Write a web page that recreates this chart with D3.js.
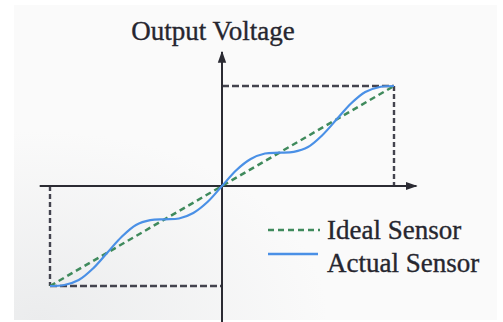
<!DOCTYPE html>
<html><head><meta charset="utf-8">
<script src="https://cdn.jsdelivr.net/npm/d3@7/dist/d3.min.js"></script>
<style>html,body{margin:0;padding:0;background:#fff;}svg{display:block;}</style>
</head><body>
<script>
// Normalized input (x) and output (y)
const xValues = [-1, -0.917, -0.833, -0.75, -0.667, -0.583, -0.5, -0.417, -0.333, -0.25, -0.167, -0.083, 0,
                 0.083, 0.167, 0.25, 0.333, 0.417, 0.5, 0.583, 0.667, 0.75, 0.833, 0.917, 1];
const actualValues = [-1, -0.99, -0.94, -0.825, -0.667, -0.508, -0.39, -0.342, -0.333, -0.325, -0.27, -0.158, 0,
                 0.158, 0.27, 0.325, 0.333, 0.342, 0.39, 0.508, 0.667, 0.825, 0.94, 0.99, 1];
const idealX = [-1, 1];
const idealValues = [-1, 1];
const seriesNames = ["Ideal Sensor", "Actual Sensor"];
const titleText = "Output Voltage";
const xAxisExtent = [-1.06, 1.13];
const yAxisExtent = [-1.37, 1.34];

const W = 503, H = 322;
const svg = d3.select("body").append("svg").attr("width", W).attr("height", H);
const defs = svg.append("defs");
const grad = defs.append("radialGradient").attr("id","bg").attr("cx","0.05").attr("cy","1").attr("r","0.6");
grad.append("stop").attr("offset","0").attr("stop-color","#ebeced");
grad.append("stop").attr("offset","1").attr("stop-color","#fafafa");
svg.append("rect").attr("width",W).attr("height",H).attr("fill","#fff");
svg.append("rect").attr("x",14).attr("y",5).attr("width",483).attr("height",315).attr("fill","url(#bg)");

const x = d3.scaleLinear().domain([-1, 1]).range([50, 394]);
const y = d3.scaleLinear().domain([-1, 1]).range([286, 86]);

const axisColor = "#2b2b33";
defs.append("marker").attr("id","arr").attr("viewBox","0 0 10 10").attr("refX",9).attr("refY",5)
  .attr("markerWidth",6).attr("markerHeight",6).attr("orient","auto")
  .append("path").attr("d","M0,1.5L10,5L0,8.5Z").attr("fill",axisColor);

// guide box dashes
const boxColor = "#43434e";
const g = svg.append("g");
const dash = "7,3";
g.append("line").attr("x1",x(0)).attr("x2",x(1)).attr("y1",y(1)).attr("y2",y(1))
  .attr("stroke",boxColor).attr("stroke-width",2.4).attr("stroke-dasharray",dash);
g.append("line").attr("x1",x(1)).attr("x2",x(1)).attr("y1",y(1)).attr("y2",y(0))
  .attr("stroke",boxColor).attr("stroke-width",2.4).attr("stroke-dasharray","5,3");
g.append("line").attr("x1",x(-1)).attr("x2",x(0)).attr("y1",y(-1)).attr("y2",y(-1))
  .attr("stroke",boxColor).attr("stroke-width",2.4).attr("stroke-dasharray",dash);
g.append("line").attr("x1",x(-1)).attr("x2",x(-1)).attr("y1",y(0)).attr("y2",y(-1))
  .attr("stroke",boxColor).attr("stroke-width",2.4).attr("stroke-dasharray","5,3");

// axes
svg.append("line").attr("x1",x(xAxisExtent[0])).attr("x2",x(xAxisExtent[1])).attr("y1",y(0)).attr("y2",y(0))
  .attr("stroke",axisColor).attr("stroke-width",2).attr("marker-end","url(#arr)");
svg.append("line").attr("x1",x(0)).attr("x2",x(0)).attr("y1",y(yAxisExtent[0])).attr("y2",y(yAxisExtent[1]))
  .attr("stroke",axisColor).attr("stroke-width",2).attr("marker-end","url(#arr)");

// curves
const line = d3.line().x(d => x(d[0])).y(d => y(d[1])).curve(d3.curveCatmullRom);
const actual = xValues.map((v,i) => [v, actualValues[i]]);
const ideal = idealX.map((v,i) => [v, idealValues[i]]);
const green = "#3f8a5c", blue = "#4a90e6";
svg.append("path").attr("d", line(ideal)).attr("fill","none").attr("stroke",green)
  .attr("stroke-width",2.5).attr("stroke-dasharray","6,4");
svg.append("path").attr("d", line(actual)).attr("fill","none").attr("stroke",blue).attr("stroke-width",2.2);

// title
const textColor = "#26262f";
const textStyle = sel => sel.attr("font-family","Liberation Serif").attr("font-size",27)
  .attr("fill",textColor).attr("stroke",textColor).attr("stroke-width",0.35);
svg.append("text").attr("x",213).attr("y",40).attr("text-anchor","middle").call(textStyle).text(titleText);

// legend
const leg = svg.append("g");
leg.append("line").attr("x1",268).attr("x2",320).attr("y1",230).attr("y2",230)
  .attr("stroke",green).attr("stroke-width",2.5).attr("stroke-dasharray","6,4");
leg.append("line").attr("x1",268).attr("x2",318).attr("y1",254).attr("y2",254)
  .attr("stroke",blue).attr("stroke-width",2.5);
leg.append("text").attr("x",327).attr("y",239).call(textStyle).text(seriesNames[0]);
leg.append("text").attr("x",327).attr("y",272).call(textStyle).text(seriesNames[1]);
</script>
</body></html>
